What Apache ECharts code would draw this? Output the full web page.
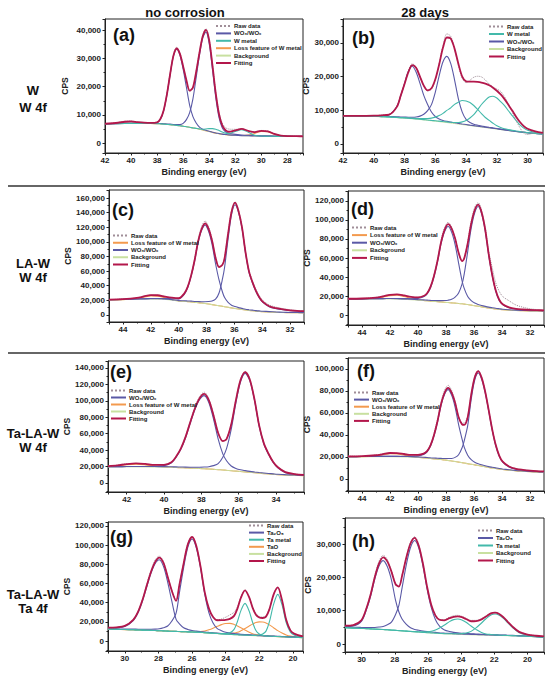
<!DOCTYPE html>
<html>
<head>
<meta charset="utf-8">
<script src="https://cdn.jsdelivr.net/npm/echarts@6/dist/echarts.min.js"></script>
<style>
  html, body { margin: 0; padding: 0; background: #fff; }
  #chart { width: 550px; height: 683px; }
</style>
</head>
<body>
<div id="chart"></div>
<script>
const FONT = "'Liberation Sans', Arial, sans-serif";

const RAW = "Raw data";
const FIT = "Fitting";
const BG = "Background";
const WO = "WO\u2083/WO\u2093";
const WM = "W metal";
const LOSS = "Loss feature of W metal";
const TA2O5 = "Ta\u2082O\u2085";
const TAM = "Ta metal";
const TAO = "TaO";

// (a) W, W 4f, no corrosion
const xA = [42, 41, 40.5, 40, 39.5, 39, 38.5, 38, 37.75, 37.5, 37.25, 37, 36.75, 36.5, 36.25, 36, 35.75, 35.5, 35.25, 35, 34.75, 34.5, 34.25, 34, 33.75, 33.5, 33.25, 33, 32.75, 32.5, 32, 31.5, 31, 30.5, 30, 29.5, 29, 28.5, 28, 27, 26.8];
const rawA = [6800, 7300, 7700, 7800, 7500, 7200, 7300, 7400, 8600, 11800, 17500, 24800, 31400, 34000, 32000, 27300, 22200, 18300, 19500, 25400, 32300, 38200, 40600, 36600, 27800, 18200, 11000, 7100, 5500, 5000, 4900, 5100, 4200, 3800, 4500, 4300, 3300, 2700, 2500, 2400, 2400];
const fitA = [6867, 7226, 7575, 7678, 7444, 7251, 7161, 7360, 8550, 11580, 17200, 24420, 30920, 33550, 31650, 27180, 22320, 18600, 19710, 25310, 31950, 37790, 40170, 36450, 27530, 17720, 10340, 6300, 4585, 4040, 4530, 5057, 4343, 3919, 4378, 4177, 3290, 2692, 2510, 2438, 2428];
const bgA = [6800, 6900, 6950, 7000, 7000, 7000, 6950, 6900, 6830, 6750, 6650, 6550, 6420, 6300, 6150, 6000, 5800, 5600, 5400, 5200, 4950, 4650, 4400, 4100, 3800, 3550, 3350, 3150, 3020, 2900, 2750, 2650, 2580, 2520, 2480, 2450, 2420, 2400, 2380, 2350, 2340];
const woA1 = [6820, 6930, 6990, 7050, 7070, 7090, 7050, 7250, 8430, 11450, 17050, 24250, 30720, 33300, 31250, 26200, 19800, 13400, 9400, 7150, 5700, 4950, 4550, 4200, 3880, 3620, 3410, 3200, 3065, 2940, 2780, 2675, 2600, 2538, 2495, 2463, 2432, 2410, 2390, 2358, 2348];
const woA2 = [6840, 6950, 7005, 7060, 7070, 7080, 7050, 7010, 6950, 6880, 6800, 6720, 6620, 6550, 6550, 6980, 8320, 10800, 15700, 23330, 31100, 37200, 39400, 35300, 26100, 16250, 9130, 5450, 4020, 3500, 3100, 2900, 2780, 2690, 2630, 2580, 2540, 2510, 2480, 2430, 2420];
const wmA = [6800, 6900, 6950, 7000, 7000, 7000, 6950, 6900, 6830, 6750, 6650, 6550, 6420, 6300, 6150, 6000, 5800, 5600, 5410, 5230, 5050, 4940, 5020, 5150, 5150, 4950, 4500, 3950, 3540, 3400, 4150, 4750, 3880, 2820, 2510, 2450, 2420, 2400, 2380, 2350, 2340];
const lossA = [6807, 7146, 7480, 7568, 7304, 7081, 6961, 6900, 6830, 6750, 6650, 6550, 6420, 6300, 6150, 6000, 5800, 5600, 5400, 5200, 4950, 4650, 4400, 4100, 3800, 3550, 3350, 3150, 3020, 2900, 2750, 2682, 2823, 3431, 4183, 4034, 3158, 2572, 2400, 2350, 2340];

// (b) W, W 4f, 28 days
const xB = [42, 41, 40, 39.5, 39, 38.5, 38.25, 38, 37.75, 37.5, 37.25, 37, 36.75, 36.5, 36.25, 36, 35.75, 35.5, 35.25, 35, 34.75, 34.5, 34.25, 34, 33.75, 33.5, 33.25, 33, 32.75, 32.5, 32.25, 32, 31.75, 31.5, 31.25, 31, 30.75, 30.5, 30.25, 30, 29.5, 29];
const rawB = [8300, 8400, 8350, 8550, 8750, 11200, 14500, 18000, 21700, 23800, 22900, 20100, 17200, 15700, 16300, 19000, 23800, 29200, 32700, 32000, 28200, 23300, 19500, 18200, 18900, 19800, 20100, 19900, 19000, 17800, 16900, 16300, 15600, 14000, 11800, 9500, 7000, 4800, 3200, 2800, 3300, 3100];
const fitB = [8350, 8350, 8400, 8500, 8700, 11000, 14300, 17800, 21300, 23400, 22600, 20000, 17300, 15900, 16500, 19200, 23600, 28600, 31600, 31300, 28300, 23800, 20000, 18600, 18500, 18500, 18400, 18200, 17900, 17400, 16700, 15800, 14700, 13300, 11600, 9900, 8100, 6500, 5300, 4500, 3700, 3250];
const bgB = [8300, 8250, 8150, 8050, 7950, 7800, 7720, 7650, 7560, 7460, 7360, 7250, 7130, 7000, 6870, 6750, 6620, 6480, 6350, 6200, 6050, 5900, 5750, 5600, 5450, 5300, 5150, 5000, 4850, 4700, 4550, 4400, 4250, 4100, 3950, 3800, 3650, 3500, 3380, 3250, 3050, 2900];
const woB1 = [8360, 8350, 8330, 8350, 8650, 11100, 14220, 17950, 21560, 23060, 21360, 18050, 14430, 11700, 9470, 8150, 7420, 6980, 6700, 6480, 6280, 6100, 5920, 5750, 5580, 5420, 5260, 5100, 4940, 4780, 4630, 4480, 4320, 4170, 4010, 3860, 3680, 3550, 3430, 3300, 3100, 2950];
const woB2 = [8370, 8340, 8270, 8200, 8130, 8050, 8000, 7970, 7940, 7940, 8010, 8250, 8830, 9900, 11670, 15350, 20220, 24380, 26000, 23900, 19050, 13400, 9450, 7300, 6350, 5850, 5550, 5320, 5120, 4930, 4750, 4580, 4415, 4250, 4070, 3910, 3745, 3600, 3470, 3330, 3120, 2960];
const wmB1 = [8320, 8280, 8195, 8105, 8020, 7890, 7820, 7770, 7700, 7630, 7570, 7530, 7510, 7550, 7670, 7950, 8420, 9080, 9950, 10700, 11750, 12400, 12900, 12770, 12300, 11400, 10250, 9000, 7850, 7000, 6150, 5400, 4900, 4520, 4250, 4020, 3820, 3640, 3500, 3350, 3130, 2960];
const wmB2 = [8325, 8280, 8190, 8095, 8000, 7855, 7780, 7715, 7630, 7535, 7440, 7335, 7220, 7100, 6980, 6870, 6760, 6640, 6540, 6440, 6370, 6380, 6550, 6950, 7700, 8700, 10150, 11700, 12950, 13920, 14150, 13650, 12550, 11400, 9850, 8400, 6950, 5650, 4680, 4050, 3350, 3030];

// (c), (d), (f) share one energy grid
const xC = [45, 44, 43, 42.5, 42, 41.5, 41, 40.5, 40, 39.6, 39.35, 39.1, 38.85, 38.6, 38.35, 38.1, 37.85, 37.6, 37.35, 37.1, 36.85, 36.7, 36.45, 36.2, 35.95, 35.7, 35.45, 35.2, 34.95, 34.7, 34.45, 34.2, 33.95, 33.5, 33, 32.5, 32, 31.5, 31];

// (c) LA-W, W 4f, no corrosion
const rawC = [20800, 21900, 23100, 25600, 27400, 26800, 25500, 23500, 23100, 29600, 39200, 55400, 77300, 103000, 120800, 128600, 120500, 103300, 79500, 66300, 69600, 78800, 112200, 142500, 154600, 143000, 120700, 87300, 61200, 46800, 35000, 26000, 19800, 13800, 10700, 8700, 7200, 6100, 5400];
const fitC = [21030, 21680, 23330, 25300, 27160, 27030, 25230, 23710, 22865, 29155, 38515, 54200, 75250, 100750, 117700, 125200, 117900, 101600, 78300, 65400, 68900, 77800, 111000, 141200, 153600, 142100, 119800, 86000, 59700, 44900, 33020, 24060, 17950, 12020, 9220, 7540, 6380, 5630, 5180];
const bgC = [20500, 21000, 21500, 21700, 21800, 21700, 21300, 20400, 19000, 18600, 18200, 17800, 17300, 16800, 16300, 15700, 15000, 14200, 13400, 12600, 11800, 11300, 10500, 9700, 8900, 8200, 7500, 6800, 6200, 5700, 5200, 4800, 4450, 4000, 3600, 3300, 3100, 3000, 2900];
const woC1 = [20780, 21350, 21960, 22250, 22460, 22500, 22400, 22300, 22000, 28200, 37500, 53100, 74000, 99200, 115800, 122700, 114500, 96600, 70100, 47900, 31100, 23800, 17300, 13400, 11600, 10100, 9000, 7900, 7200, 6600, 6020, 5560, 5150, 4620, 4120, 3740, 3480, 3330, 3180];
const woC2 = [20750, 21280, 21820, 22050, 22180, 22130, 21800, 21000, 19700, 19520, 19200, 18900, 18550, 18350, 18200, 18200, 18400, 19200, 21600, 30100, 49600, 65300, 104200, 137500, 150900, 140200, 118300, 84900, 58700, 44000, 32200, 23300, 17250, 11400, 8700, 7100, 6000, 5300, 4900];
const lossC = [20500, 21050, 22550, 24400, 26120, 25800, 23630, 21210, 19165, 18635, 18215, 17800, 17300, 16800, 16300, 15700, 15000, 14200, 13400, 12600, 11800, 11300, 10500, 9700, 8900, 8200, 7500, 6800, 6200, 5700, 5200, 4800, 4450, 4000, 3600, 3300, 3100, 3000, 2900];

// (d) LA-W, W 4f, 28 days
const rawD = [17200, 17300, 18500, 19800, 21400, 21600, 20500, 19300, 18700, 20300, 23400, 30700, 42900, 59000, 78800, 92100, 97600, 92600, 81400, 66200, 57500, 60600, 77000, 98600, 113400, 118200, 109800, 92400, 67000, 50000, 34000, 25000, 19500, 15000, 10500, 8200, 6600, 5700, 5100];
const fitD = [17100, 17384, 18330, 19650, 21260, 21770, 20650, 19120, 18550, 20030, 22920, 29860, 41650, 57500, 76700, 89600, 95600, 90900, 80400, 65600, 56800, 59500, 75200, 96100, 110300, 116100, 107700, 90000, 64000, 42360, 25960, 16080, 11420, 8050, 6500, 5810, 5330, 5100, 4880];
const bgD = [16500, 16700, 16900, 16900, 16900, 16800, 16500, 16100, 15600, 15200, 14900, 14600, 14300, 14000, 13700, 13400, 13100, 12800, 12500, 12200, 11800, 11500, 11000, 10400, 9800, 9200, 8600, 8000, 7400, 6900, 6400, 6000, 5600, 5100, 4700, 4500, 4300, 4200, 4100];
const woD1 = [16800, 17020, 17250, 17300, 17360, 17360, 17250, 17200, 17500, 19200, 22100, 29000, 40700, 56400, 75300, 87800, 93100, 87200, 74100, 54600, 35800, 28000, 19500, 15200, 12600, 11100, 10000, 9100, 8300, 7660, 7060, 6580, 6120, 5550, 5100, 4860, 4630, 4500, 4380];
const woD2 = [16800, 17040, 17280, 17300, 17320, 17250, 17000, 16660, 16240, 15920, 15680, 15450, 15250, 15100, 15100, 15200, 15600, 16500, 18800, 23200, 32800, 43000, 66700, 91300, 107500, 114200, 106300, 88900, 63100, 41600, 25300, 15500, 10900, 7600, 6100, 5450, 5000, 4800, 4600];
const lossD = [16500, 16724, 17600, 18850, 20380, 20760, 19400, 17460, 16010, 15310, 14940, 14610, 14300, 14000, 13700, 13400, 13100, 12800, 12500, 12200, 11800, 11500, 11000, 10400, 9800, 9200, 8600, 8000, 7400, 6900, 6400, 6000, 5600, 5100, 4700, 4500, 4300, 4200, 4100];

// (e) Ta-LA-W, W 4f, no corrosion
const xE = [43, 42.5, 42, 41.5, 41, 40.5, 40, 39.6, 39.35, 39.1, 38.85, 38.6, 38.35, 38.1, 37.85, 37.6, 37.35, 37.1, 36.85, 36.65, 36.4, 36.15, 35.9, 35.65, 35.4, 35.15, 34.9, 34.65, 34.4, 34.15, 33.9, 33.5, 33, 32.5];
const rawE = [20300, 21600, 23300, 23700, 23000, 22200, 22300, 25600, 32700, 42400, 56600, 74600, 91800, 104800, 110600, 102500, 83600, 61600, 51500, 54000, 71800, 101200, 126300, 136000, 126500, 102300, 70500, 48800, 36000, 26000, 19500, 13600, 11000, 10000];
const fitE = [20420, 21450, 22990, 23850, 23160, 22050, 22080, 25300, 32110, 41760, 55750, 73500, 90400, 102900, 108400, 100800, 82500, 60900, 51000, 53400, 71100, 100500, 125200, 135000, 125700, 101400, 69750, 48180, 35600, 25520, 19060, 13100, 10840, 9900];
const bgE = [19400, 19500, 19600, 19600, 19500, 19400, 19300, 19000, 18800, 18600, 18300, 18100, 17900, 17600, 17300, 17000, 16600, 16200, 15800, 15400, 14900, 14400, 13900, 13400, 12900, 12400, 11900, 11400, 10900, 10500, 10100, 9600, 9200, 8900];
const woE1 = [19740, 19880, 20020, 20100, 20100, 20300, 21100, 24500, 31300, 40900, 54800, 72400, 89100, 101300, 106300, 98000, 78000, 53600, 35400, 27000, 20700, 17700, 16000, 15000, 14100, 13400, 12750, 12180, 11600, 11120, 10660, 10100, 9640, 9300];
const woE2 = [19750, 19880, 20010, 20050, 20000, 19960, 19950, 19720, 19580, 19450, 19250, 19200, 19200, 19200, 19400, 19800, 21100, 23500, 31400, 41800, 65300, 97200, 123100, 133400, 124500, 100400, 68900, 47400, 34900, 24900, 18500, 12600, 10400, 9500];
const lossE = [19730, 20690, 22160, 22900, 22060, 20590, 19630, 19083, 18830, 18610, 18300, 18100, 17900, 17600, 17300, 17000, 16600, 16200, 15800, 15400, 14900, 14400, 13900, 13400, 12900, 12400, 11900, 11400, 10900, 10500, 10100, 9600, 9200, 8900];

// (f) Ta-LA-W, W 4f, 28 days
const rawF = [20700, 20500, 21700, 22800, 23400, 23300, 22800, 21600, 21700, 23200, 25700, 31500, 41500, 54500, 70300, 80700, 85200, 80600, 70600, 57000, 50800, 50700, 57200, 77300, 93000, 98600, 92300, 79700, 62900, 45600, 31400, 21700, 16000, 11600, 9500, 8400, 7700, 7100, 6700];
const fitF = [20500, 20670, 21510, 22570, 23570, 23530, 22650, 21790, 21810, 22935, 25255, 30800, 40280, 52900, 68250, 78400, 82900, 78500, 69200, 56100, 49600, 49100, 56100, 76500, 92200, 98000, 91900, 79350, 62600, 45100, 31020, 21260, 15700, 11340, 9190, 8250, 7570, 7100, 6780];
const bgF = [20000, 20100, 20200, 20200, 20200, 20100, 20000, 19800, 19500, 19100, 18800, 18500, 18200, 17900, 17600, 17200, 16800, 16300, 15800, 15300, 14800, 14400, 13900, 13300, 12800, 12200, 11600, 11000, 10400, 9900, 9400, 8900, 8500, 7900, 7300, 6900, 6500, 6200, 6000];
const woF1 = [20250, 20370, 20500, 20530, 20570, 20520, 20560, 20650, 21100, 22300, 24600, 30100, 39500, 52000, 67200, 77100, 81200, 76200, 65400, 49400, 36100, 28900, 21600, 17500, 15200, 13800, 12800, 11950, 11200, 10600, 10020, 9460, 9000, 8340, 7690, 7250, 6820, 6500, 6280];
const woF2 = [20250, 20370, 20500, 20520, 20540, 20470, 20410, 20260, 20030, 19690, 19440, 19200, 18980, 18800, 18650, 18500, 18500, 18600, 19600, 22000, 28300, 34600, 48400, 72300, 89800, 96400, 90700, 78400, 61800, 44400, 30400, 20700, 15200, 10900, 8800, 7900, 7250, 6800, 6500];
const lossF = [20000, 20130, 20910, 21920, 22860, 22740, 21680, 20480, 19680, 19145, 18815, 18500, 18200, 17900, 17600, 17200, 16800, 16300, 15800, 15300, 14800, 14400, 13900, 13300, 12800, 12200, 11600, 11000, 10400, 9900, 9400, 8900, 8500, 7900, 7300, 6900, 6500, 6200, 6000];

// (g) Ta-LA-W, Ta 4f, no corrosion
const xG = [31, 30.5, 30, 29.5, 29.2, 28.95, 28.7, 28.45, 28.2, 27.95, 27.7, 27.45, 27.2, 26.95, 26.75, 26.5, 26.25, 26.0, 25.75, 25.5, 25.25, 25.0, 24.75, 24.5, 24.25, 24.0, 23.75, 23.5, 23.3, 23.1, 22.85, 22.6, 22.4, 22.2, 22.0, 21.8, 21.6, 21.4, 21.15, 20.9, 20.65, 20.4, 20.15, 19.9, 19.4];
const rawG = [13600, 14100, 15900, 22500, 31600, 43500, 58700, 73200, 84300, 88500, 82500, 67400, 52800, 42500, 59600, 81500, 101400, 108900, 99600, 78300, 51300, 34300, 25200, 22000, 23000, 24800, 27200, 30000, 35500, 45600, 53200, 45900, 35400, 28400, 25600, 25000, 26200, 33600, 48800, 55600, 42300, 22300, 11400, 7600, 4700];
const fitG = [13895, 14272, 15769, 22115, 30920, 42666, 57441, 71598, 82152, 86957, 81369, 66878, 52085, 41740, 58817, 80898, 100707, 108365, 99288, 77960, 51185, 34000, 25075, 21650, 21735, 22040, 23100, 26190, 33815, 44840, 52850, 45460, 34810, 27310, 24480, 23980, 25450, 32970, 48350, 55830, 42650, 22090, 11100, 7430, 4790];
const bgG = [12500, 12200, 11900, 11700, 11500, 11350, 11200, 11050, 10900, 10700, 10500, 10300, 10100, 9950, 9800, 9650, 9500, 9350, 9150, 8900, 8600, 8300, 8000, 7700, 7400, 7100, 6850, 6600, 6400, 6200, 6000, 5800, 5600, 5450, 5300, 5150, 5000, 4850, 4700, 4500, 4350, 4200, 4000, 3850, 3500];
const taoxG1 = [13400, 13700, 15100, 21300, 30000, 41650, 56300, 70250, 80500, 84700, 77800, 61400, 41200, 22550, 17900, 13750, 12100, 10950, 10350, 9850, 9400, 8960, 8600, 8250, 7900, 7560, 7280, 7000, 6780, 6560, 6340, 6120, 5900, 5740, 5580, 5420, 5260, 5100, 4940, 4730, 4570, 4410, 4200, 4040, 3680];
const taoxG2 = [12920, 12680, 12460, 12400, 12300, 12230, 12200, 12250, 12400, 12800, 13900, 15600, 20800, 28950, 50500, 76550, 97800, 106350, 97450, 76800, 49300, 29600, 18700, 13000, 10800, 9200, 8450, 7850, 7450, 7100, 6780, 6500, 6240, 6040, 5850, 5660, 5480, 5300, 5120, 4900, 4730, 4560, 4340, 4170, 3800];
const tamG1 = [12520, 12225, 11930, 11730, 11530, 11385, 11235, 11088, 10940, 10740, 10545, 10348, 10150, 10000, 9855, 9710, 9565, 9420, 9230, 8990, 8700, 8420, 8150, 7900, 7700, 7660, 8510, 12100, 20300, 31400, 39200, 31000, 19500, 10950, 7300, 5850, 5350, 5070, 4860, 4630, 4460, 4290, 4080, 3920, 3560];
const tamG2 = [12525, 12230, 11935, 11735, 11535, 11388, 11238, 11090, 10940, 10740, 10542, 10345, 10148, 10000, 9852, 9703, 9554, 9405, 9208, 8960, 8665, 8370, 8075, 7780, 7485, 7190, 6950, 6710, 6525, 6340, 6170, 6020, 5900, 5900, 6200, 7350, 10300, 19850, 38200, 48600, 37850, 19200, 9300, 6050, 3900];
const taoG1 = [12520, 12225, 11930, 11730, 11535, 11390, 11248, 11100, 10950, 10755, 10558, 10360, 10162, 10015, 9880, 9750, 9650, 9600, 9600, 9800, 10440, 11750, 13400, 15300, 17100, 18250, 18350, 17300, 15700, 13800, 11400, 9250, 7670, 6720, 6100, 5650, 5300, 5050, 4850, 4610, 4440, 4280, 4070, 3910, 3550];
const taoG2 = [12510, 12212, 11914, 11715, 11515, 11368, 11220, 11070, 10922, 10722, 10524, 10325, 10125, 9975, 9830, 9685, 9538, 9390, 9200, 8960, 8680, 8400, 8150, 7920, 7750, 7680, 7810, 8230, 9060, 10640, 12960, 15570, 17600, 19210, 19950, 19800, 18760, 16850, 13880, 10860, 8350, 6350, 5110, 4590, 3800];

// (h) Ta-LA-W, Ta 4f, 28 days
const xH = [31, 30.5, 30, 29.7, 29.45, 29.2, 28.95, 28.7, 28.45, 28.2, 27.95, 27.75, 27.55, 27.3, 27.05, 26.8, 26.55, 26.3, 26.05, 25.8, 25.55, 25.3, 25.0, 24.7, 24.45, 24.2, 23.95, 23.7, 23.4, 23.1, 22.8, 22.5, 22.2, 21.95, 21.7, 21.45, 21.2, 20.9, 20.5, 20, 19.5, 19];
const rawH = [5400, 5750, 7300, 11000, 15200, 20600, 24800, 26600, 25400, 22000, 18100, 17400, 20800, 26200, 30500, 32200, 29700, 24200, 17100, 11600, 8400, 7200, 7300, 8000, 8500, 8600, 8300, 7700, 7100, 7100, 7500, 8400, 9300, 9500, 9100, 8100, 6800, 5300, 3700, 2900, 2500, 2250];
const fitH = [5500, 5690, 7207, 10797, 14929, 20114, 24135, 26015, 24801, 21712, 17923, 17249, 20630, 25961, 30152, 31863, 29425, 24076, 17188, 11800, 8600, 7270, 7100, 7740, 8165, 8290, 8070, 7490, 6830, 6880, 7320, 8260, 9205, 9400, 8995, 8020, 6745, 5210, 3635, 2840, 2480, 2270];
const bgH = [4900, 4750, 4650, 4580, 4520, 4450, 4390, 4320, 4250, 4160, 4070, 3990, 3920, 3830, 3740, 3650, 3560, 3470, 3380, 3300, 3220, 3140, 3060, 2990, 2940, 2890, 2850, 2810, 2770, 2730, 2690, 2650, 2610, 2580, 2550, 2520, 2490, 2450, 2380, 2280, 2150, 2000];
const taoxH1 = [5250, 5400, 6850, 10380, 14460, 19550, 23390, 25020, 23250, 19260, 13070, 9590, 7420, 5900, 4880, 4370, 4100, 3870, 3710, 3590, 3480, 3370, 3270, 3180, 3115, 3050, 3000, 2950, 2900, 2850, 2800, 2750, 2705, 2670, 2635, 2600, 2565, 2520, 2445, 2340, 2205, 2050];
const taoxH2 = [5120, 5010, 4970, 4960, 4950, 4970, 5090, 5270, 5750, 6560, 8870, 11590, 17070, 23830, 28940, 31050, 28760, 23470, 16530, 10970, 7330, 5330, 4210, 3740, 3500, 3340, 3230, 3140, 3060, 2990, 2920, 2860, 2800, 2760, 2720, 2680, 2640, 2590, 2510, 2400, 2260, 2100];
const tamH1 = [4920, 4770, 4675, 4605, 4545, 4480, 4420, 4350, 4285, 4195, 4105, 4030, 3960, 3870, 3790, 3720, 3660, 3650, 3680, 3810, 4190, 4800, 5680, 6720, 7310, 7490, 7220, 6540, 5390, 4390, 3520, 3020, 2840, 2730, 2660, 2600, 2550, 2500, 2420, 2310, 2175, 2020];
const tamH2 = [4910, 4760, 4662, 4592, 4534, 4464, 4405, 4335, 4266, 4177, 4088, 4009, 3940, 3851, 3762, 3673, 3585, 3496, 3408, 3330, 3260, 3190, 3120, 3070, 3060, 3080, 3170, 3290, 3790, 4840, 6150, 7580, 8690, 8980, 8630, 7700, 6460, 4950, 3400, 2630, 2290, 2100];

const COLORS = {};
COLORS[RAW] = "#a08e98";
COLORS[FIT] = "#b3174b";
COLORS[BG] = "#c8e0a0";
COLORS[WO] = "#5a59a6";
COLORS[TA2O5] = "#5a59a6";
COLORS[WM] = "#43b9aa";
COLORS[TAM] = "#43b9aa";
COLORS[LOSS] = "#f39a4e";
COLORS[TAO] = "#f39a4e";

// these sit under the background line where they coincide with it
const UNDER_BG = [LOSS, TAO];

const panels = [
  { x: xA, raw: rawA, fit: fitA, bg: bgA, parts: [[WO, woA1], [WO, woA2], [WM, wmA], [LOSS, lossA]],
    legend: [RAW, WO, WM, LOSS, BG, FIT], box: [105, 19, 198, 134], xr: [26.8, 42], yr: [-3500, 44000],
    xs: 7, ys: 5, yStep: 10000, gap: 36, letter: "(a)", lp: [113, 35], lg: [215, 23, 8.4] },
  { x: xB, raw: rawB, fit: fitB, bg: bgB, parts: [[WO, woB1], [WO, woB2], [WM, wmB1], [WM, wmB2]],
    legend: [RAW, WM, WO, BG, FIT], box: [343, 19, 200, 134], xr: [29, 42], yr: [-2700, 37100],
    xs: 7, ys: 5, yStep: 10000, gap: 31, letter: "(b)", lp: [352, 38], lg: [488, 23.5, 8.5] },
  { x: xC, raw: rawC, fit: fitC, bg: bgC, parts: [[WO, woC1], [WO, woC2], [LOSS, lossC]],
    legend: [RAW, LOSS, WO, BG, FIT], box: [109, 190, 195, 132], xr: [31, 45], yr: [-9600, 171000],
    xs: 7, ys: 9, yStep: 20000, gap: 35, letter: "(c)", lp: [112, 210], lg: [112, 232.5, 8.25] },
  { x: xC, raw: rawD, fit: fitD, bg: bgD, parts: [[WO, woD1], [WO, woD2], [LOSS, lossD]],
    legend: [RAW, LOSS, WO, BG, FIT], box: [348, 191, 196, 134], xr: [31, 45], yr: [-10500, 130500],
    xs: 7, ys: 7, yStep: 20000, gap: 32, letter: "(d)", lp: [351, 209], lg: [351, 224.5, 8.6] },
  { x: xE, raw: rawE, fit: fitE, bg: bgE, parts: [[WO, woE1], [WO, woE2], [LOSS, lossE]],
    legend: [RAW, WO, LOSS, BG, FIT], box: [108, 361, 196, 131], xr: [32.5, 43], yr: [-11000, 148500],
    xs: 6, ys: 8, yStep: 20000, gap: 36, letter: "(e)", lp: [110, 372], lg: [110, 387.5, 8.0] },
  { x: xC, raw: rawF, fit: fitF, bg: bgF, parts: [[WO, woF1], [WO, woF2], [LOSS, lossF]],
    legend: [RAW, WO, LOSS, BG, FIT], box: [348, 358, 196, 133], xr: [31, 45], yr: [-11000, 110000],
    xs: 7, ys: 6, yStep: 20000, gap: 34, letter: "(f)", lp: [357, 371], lg: [353, 389.5, 8.1] },
  { x: xG, raw: rawG, fit: fitG, bg: bgG, parts: [[TA2O5, taoxG1], [TA2O5, taoxG2], [TAM, tamG1], [TAM, tamG2], [TAO, taoG1], [TAO, taoG2]],
    legend: [RAW, TA2O5, TAM, TAO, BG, FIT], box: [108, 522, 195, 129], xr: [19.4, 31], yr: [-10400, 124000],
    xs: 6, ys: 7, yStep: 20000, gap: 36, letter: "(g)", lp: [110, 537], lg: [248, 522.5, 8.1] },
  { x: xH, raw: rawH, fit: fitH, bg: bgH, parts: [[TA2O5, taoxH1], [TA2O5, taoxH2], [TAM, tamH1], [TAM, tamH2]],
    legend: [RAW, TA2O5, TAM, BG, FIT], box: [345, 518, 199, 134], xr: [19, 31], yr: [-2400, 37800],
    xs: 6, ys: 5, yStep: 10000, gap: 31, letter: "(h)", lp: [352, 541], lg: [477, 527.5, 8.5] },
];

function withCommas(v) {
  return String(v).replace(/\B(?=(\d{3})+(?!\d))/g, ",");
}

function curve(name, xs, ys, i, width, dash) {
  return {
    name: name,
    type: "line",
    xAxisIndex: i,
    yAxisIndex: i,
    data: xs.map((x, k) => [x, ys[k]]),
    smooth: 0.3,
    symbol: "none",
    silent: true,
    lineStyle: { color: COLORS[name], width: width, type: dash || "solid" },
    itemStyle: { color: COLORS[name] },
  };
}

const grids = [];
const xAxes = [];
const yAxes = [];
const series = [];
const legends = [];
const graphics = [];

const labelStyle = { fontSize: 8, fontWeight: "bold", color: "#222", fontFamily: FONT };

panels.forEach((p, i) => {
  grids.push({
    left: p.box[0], top: p.box[1], width: p.box[2], height: p.box[3],
    show: true, borderColor: "#222", borderWidth: 1, backgroundColor: "transparent",
  });

  xAxes.push({
    type: "value", gridIndex: i, inverse: true, min: p.xr[0], max: p.xr[1], splitNumber: p.xs,
    name: "Binding energy (eV)", nameLocation: "middle", nameGap: 14,
    nameTextStyle: { fontSize: 9, fontWeight: "bold", color: "#222", fontFamily: FONT },
    axisLine: { show: true, onZero: false, lineStyle: { color: "#222", width: 1 } },
    axisTick: { show: true, length: 2.5, lineStyle: { color: "#222" } },
    minorTick: { show: true, splitNumber: 2, length: 1.5, lineStyle: { color: "#222" } },
    splitLine: { show: false },
    axisLabel: Object.assign({
      margin: 3,
      formatter: function (v) {
        const r = Math.round(v);
        return Math.abs(v - r) < 1e-6 && r % 2 === 0 ? String(r) : "";
      },
    }, labelStyle),
  });

  yAxes.push({
    type: "value", gridIndex: i, min: p.yr[0], max: p.yr[1], splitNumber: p.ys,
    name: "CPS", nameLocation: "middle", nameGap: p.gap,
    nameTextStyle: { fontSize: 8.5, fontWeight: "bold", color: "#222", fontFamily: FONT },
    axisLine: { show: true, onZero: false, lineStyle: { color: "#222", width: 1 } },
    axisTick: { show: true, length: 2.5, lineStyle: { color: "#222" } },
    minorTick: { show: true, splitNumber: 2, length: 1.5, lineStyle: { color: "#222" } },
    splitLine: { show: false },
    axisLabel: Object.assign({
      margin: 4,
      formatter: function (v) {
        return v >= 0 && Math.abs(v % p.yStep) < 1e-6 ? withCommas(v) : "";
      },
    }, labelStyle),
  });

  p.parts.filter((part) => UNDER_BG.includes(part[0])).forEach((part) => {
    series.push(curve(part[0], p.x, part[1], i, 1.1));
  });
  series.push(curve(BG, p.x, p.bg, i, 1));
  p.parts.filter((part) => !UNDER_BG.includes(part[0])).forEach((part) => {
    series.push(curve(part[0], p.x, part[1], i, 1.1));
  });
  series.push(curve(RAW, p.x, p.raw, i, 1, "dotted"));
  series.push(curve(FIT, p.x, p.fit, i, 1.8));

  legends.push({
    orient: "vertical",
    left: p.lg[0],
    top: p.lg[1],
    padding: 0,
    itemWidth: 15,
    itemHeight: 7,
    itemGap: p.lg[2] - 7,
    selectedMode: false,
    data: p.legend,
    // hide the marker dot, keep only the line sample
    itemStyle: { opacity: 0 },
    textStyle: { fontSize: 6, fontWeight: "bold", color: "#222", fontFamily: FONT, padding: [0, 0, 0, -2] },
  });

  graphics.push({
    type: "text", x: p.lp[0], y: p.lp[1],
    style: { text: p.letter, fill: "#111", font: "bold 18px " + FONT, align: "left", verticalAlign: "middle" },
  });
});

function label(text, x, y, size) {
  return {
    type: "text", x: x, y: y,
    style: { text: text, fill: "#111", font: "bold " + size + "px " + FONT, align: "center", verticalAlign: "middle" },
  };
}

graphics.push(label("no corrosion", 185, 12, 13));
graphics.push(label("28 days", 425, 12, 13));
graphics.push(label("W", 33, 90, 13));
graphics.push(label("W 4f", 33, 107.5, 13));
graphics.push(label("LA-W", 33, 263, 13));
graphics.push(label("W 4f", 33, 277.5, 13));
graphics.push(label("Ta-LA-W", 33, 433, 13));
graphics.push(label("W 4f", 33, 447.5, 13));
graphics.push(label("Ta-LA-W", 33, 594, 13));
graphics.push(label("Ta 4f", 33, 608.5, 13));

[186, 353].forEach((y) => {
  graphics.push({
    type: "line",
    shape: { x1: 8, y1: y, x2: 545, y2: y },
    style: { stroke: "#333", lineWidth: 1.5 },
  });
});

const chart = echarts.init(document.getElementById("chart"), null, { renderer: "svg" });

chart.setOption({
  animation: false,
  backgroundColor: "#fff",
  grid: grids,
  xAxis: xAxes,
  yAxis: yAxes,
  legend: legends,
  series: series,
  graphic: graphics,
});
</script>
</body>
</html>
